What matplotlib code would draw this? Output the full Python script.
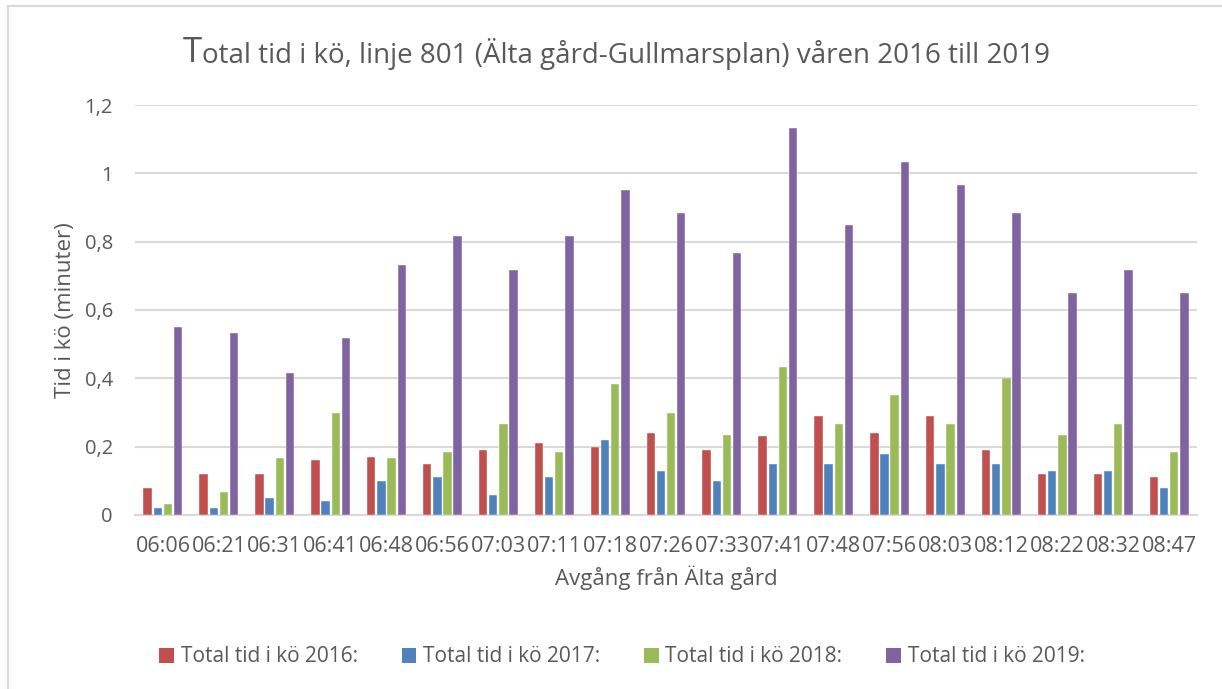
import matplotlib
matplotlib.use("Agg")
import matplotlib.pyplot as plt
import numpy as np
from matplotlib.patches import Patch
from matplotlib.lines import Line2D

plt.rcParams['font.family'] = ['Open Sans', 'DejaVu Sans']

categories = ["06:06", "06:21", "06:31", "06:41", "06:48", "06:56", "07:03", "07:11",
              "07:18", "07:26", "07:33", "07:41", "07:48", "07:56", "08:03", "08:12",
              "08:22", "08:32", "08:47"]
v2016 = [0.08, 0.12, 0.12, 0.16, 0.17, 0.15, 0.19, 0.21, 0.20, 0.24, 0.19, 0.23,
         0.29, 0.24, 0.29, 0.19, 0.12, 0.12, 0.11]
v2017 = [0.02, 0.02, 0.05, 0.04, 0.10, 0.11, 0.06, 0.11, 0.22, 0.13, 0.10, 0.15,
         0.15, 0.18, 0.15, 0.15, 0.13, 0.13, 0.08]
v2018 = [0.033, 0.067, 0.167, 0.300, 0.167, 0.183, 0.267, 0.183, 0.383, 0.300, 0.233,
         0.433, 0.267, 0.350, 0.267, 0.400, 0.233, 0.267, 0.183]
v2019 = [0.550, 0.533, 0.417, 0.517, 0.733, 0.817, 0.717, 0.817, 0.950, 0.883, 0.767,
         1.133, 0.850, 1.033, 0.967, 0.883, 0.650, 0.717, 0.650]
series_names = ["Total tid i kö 2016:", "Total tid i kö 2017:",
                "Total tid i kö 2018:", "Total tid i kö 2019:"]
yticks = [0, 0.2, 0.4, 0.6, 0.8, 1.0, 1.2]
ytick_labels = ["0", "0,2", "0,4", "0,6", "0,8", "1", "1,2"]

colors = ["#C0504D", "#4F81BD", "#9BBB59", "#8064A2"]
text_color = "#595959"

W, H = 1222, 689
fig = plt.figure(figsize=(W / 100, H / 100), dpi=100)
ax = fig.add_axes([135 / W, 1 - 515 / H, (1197 - 135) / W, (515 - 105) / H])

x = np.arange(len(categories))
step = 0.182
bw = 0.15
for i, (vals, c) in enumerate(zip([v2016, v2017, v2018, v2019], colors)):
    ax.bar(x + (i - 1.5) * step, vals, width=bw, color=c, zorder=3,
           edgecolor='white', linewidth=0.3)

ax.set_xlim(-0.5, len(categories) - 0.5)
ax.set_ylim(0, 1.2)
ax.set_yticks(yticks)
ax.set_yticklabels(ytick_labels)
ax.set_xticks(x)
ax.set_xticklabels(categories)
ax.grid(axis='y', color='#D9D9D9', linewidth=1.5, zorder=0)
ax.set_axisbelow(True)
for s in ['top', 'right', 'left']:
    ax.spines[s].set_visible(False)
ax.spines['bottom'].set_color('#D9D9D9')
ax.spines['bottom'].set_linewidth(1.5)
ax.tick_params(axis='both', length=0, colors=text_color)
ax.tick_params(axis='y', pad=16, labelsize=14.5)
ax.tick_params(axis='x', pad=15, labelsize=15.5)

ax.set_xlabel("Avgång från Älta gård", fontsize=16, color=text_color, labelpad=6)
ax.set_ylabel("Tid i kö (minuter)", fontsize=16, color=text_color, labelpad=6)

# Title with a larger first letter
t1 = fig.text(183 / W, 1 - 62 / H, "T", fontsize=25, color=text_color,
              ha='left', va='baseline')
ax.annotate("otal tid i kö, linje 801 (Älta gård-Gullmarsplan) våren 2016 till 2019",
            xy=(1, 0), xycoords=t1, xytext=(0, 0), textcoords='offset points',
            fontsize=20, color=text_color, ha='left', va='bottom',
            annotation_clip=False)

handles = [Patch(facecolor=c, edgecolor='none') for c in colors]
leg = fig.legend(handles, series_names, loc='center', ncol=4,
                 bbox_to_anchor=(622 / W, 1 - 657 / H), frameon=False,
                 fontsize=15, handlelength=0.7, handleheight=0.7,
                 handletextpad=0.33, columnspacing=2.1, labelcolor=text_color)

# chart border (top and left edges visible)
fig.add_artist(Line2D([8 / W, 1], [1 - 6 / H, 1 - 6 / H], color='#D9D9D9',
                      linewidth=1.5, transform=fig.transFigure))
fig.add_artist(Line2D([8 / W, 8 / W], [0, 1 - 6 / H], color='#D9D9D9',
                      linewidth=1.5, transform=fig.transFigure))

fig.savefig("out.png", dpi=100)
